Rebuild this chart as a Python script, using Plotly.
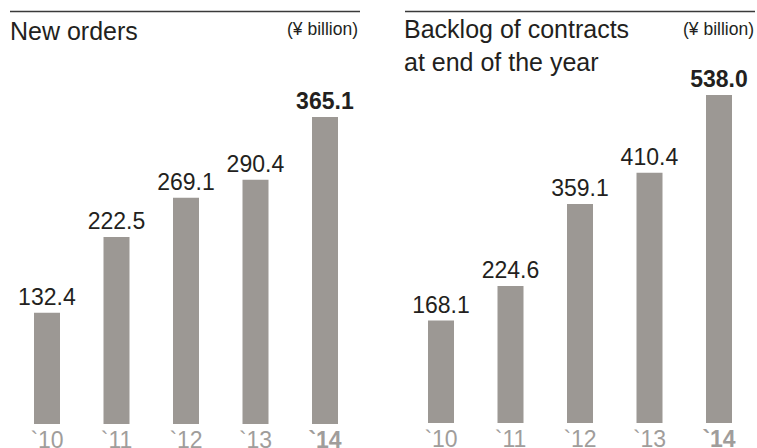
import plotly.graph_objects as go

W, H = 757, 448

years = ["`10", "`11", "`12", "`13", "`14"]
new_orders = [132.4, 222.5, 269.1, 290.4, 365.1]
backlog = [168.1, 224.6, 359.1, 410.4, 538.0]

BAR = "#9c9894"
DARK = "#231f20"
TICK = "#a09d9b"
FONT = "Liberation Sans, Arial, sans-serif"


def px_x(p):
    return p / W


def px_y(p):
    return (H - p) / H


def labels(vals):
    out = [f"{v:.1f}" for v in vals]
    out[-1] = f"<b>{out[-1]}</b>"
    return out


ticks = years[:-1] + [f"<b>{years[-1]}</b>"]

fig = go.Figure()
for vals, xa, ya in [(new_orders, "x", "y"), (backlog, "x2", "y2")]:
    fig.add_trace(go.Bar(
        x=list(range(5)), y=vals, xaxis=xa, yaxis=ya,
        marker=dict(color=BAR, line=dict(width=0)), width=0.374,
        text=labels(vals), textposition="outside", cliponaxis=False,
        constraintext="none",
        textfont=dict(family=FONT, size=23, color=DARK), hoverinfo="skip",
    ))

xcommon = dict(
    tickmode="array", tickvals=list(range(5)), ticktext=ticks,
    range=[-0.5, 4.5], showgrid=False, zeroline=False, showline=False,
    ticks="", ticklabelstandoff=0,
    tickfont=dict(family=FONT, size=23, color=TICK), fixedrange=True,
    automargin=False,
)
ycommon = dict(visible=False, showgrid=False, zeroline=False, fixedrange=True)

fig.update_layout(
    width=W, height=H, margin=dict(l=0, r=0, t=0, b=0),
    paper_bgcolor="white", plot_bgcolor="white", showlegend=False,
    xaxis=dict(domain=[px_x(12.25), px_x(359.75)], anchor="y", **xcommon),
    yaxis=dict(domain=[px_y(424), 1], range=[0, 424 / (307 / 365.1)], **ycommon),
    xaxis2=dict(domain=[px_x(406.25), px_x(753.75)], anchor="y2", **xcommon),
    yaxis2=dict(domain=[px_y(423), 1], range=[0, 423 / (328 / 538.0)], **ycommon),
    font=dict(family=FONT, color=DARK),
)

# top rules
for x0, x1 in [(10, 360), (405, 755)]:
    fig.add_shape(type="line", xref="paper", yref="paper",
                  x0=px_x(x0), x1=px_x(x1), y0=px_y(11.5), y1=px_y(11.5),
                  line=dict(color="#3a3a3a", width=1.5))

ann = [
    dict(text="New orders", x=px_x(9), y=px_y(16), xanchor="left", yanchor="top", size=25),
    dict(text="(¥ billion)", x=px_x(359), y=px_y(18), xanchor="right", yanchor="top", size=17.5),
    dict(text="Backlog of contracts<br>at end of the year", x=px_x(403), y=px_y(14),
         xanchor="left", yanchor="top", size=25),
    dict(text="(¥ billion)", x=px_x(755), y=px_y(18), xanchor="right", yanchor="top", size=17.5),
]
for a in ann:
    fig.add_annotation(text=a["text"], x=a["x"], y=a["y"], xref="paper", yref="paper",
                       xanchor=a["xanchor"], yanchor=a["yanchor"], showarrow=False,
                       align="left", font=dict(family=FONT, size=a["size"], color=DARK),
                       borderpad=0)

fig.write_html("out.html")
